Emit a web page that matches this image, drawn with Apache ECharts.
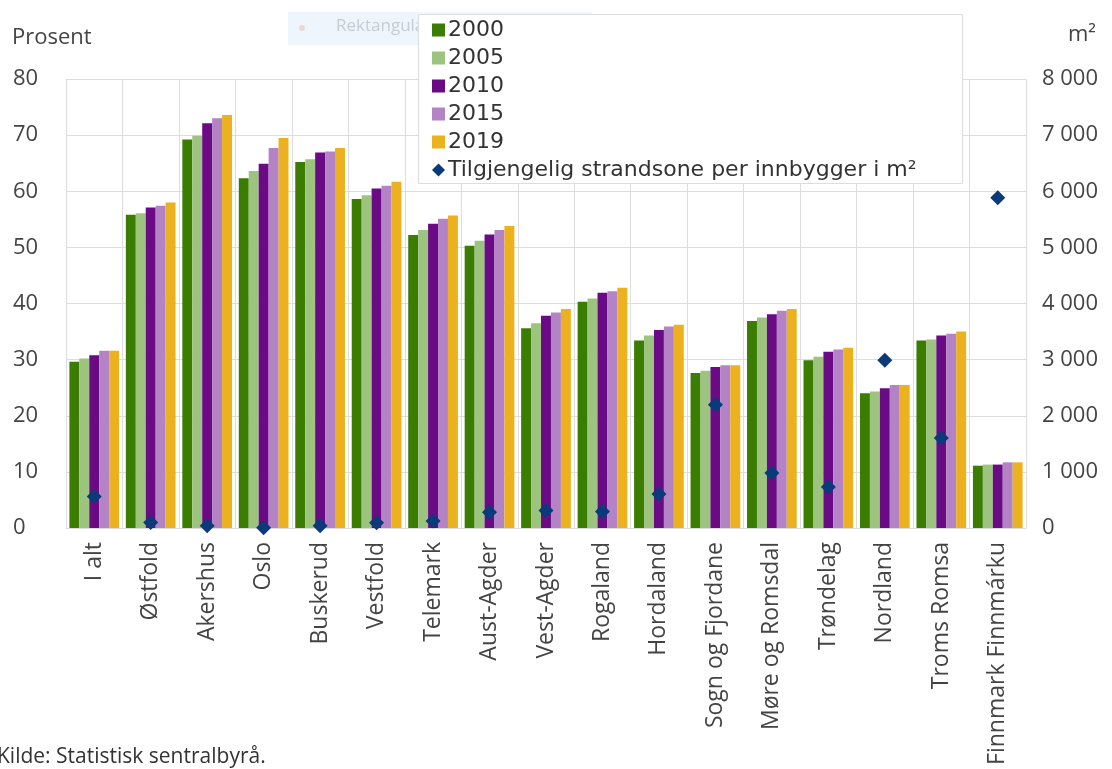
<!DOCTYPE html>
<html>
<head>
<meta charset="utf-8">
<script src="https://cdn.jsdelivr.net/npm/echarts@6/dist/echarts.min.js"></script>
<style>
  html, body { margin: 0; padding: 0; background: #fff; }
  #chart { width: 1112px; height: 769px; }
</style>
</head>
<body>
<div id="chart"></div>
<script>
const categories = ['I alt', 'Østfold', 'Akershus', 'Oslo', 'Buskerud', 'Vestfold', 'Telemark', 'Aust-Agder', 'Vest-Agder', 'Rogaland', 'Hordaland', 'Sogn og Fjordane', 'Møre og Romsdal', 'Trøndelag', 'Nordland', 'Troms Romsa', 'Finnmark Finnmárku']

// andel (prosent) per år
const y2000 = [29.6, 55.8, 69.2, 62.3, 65.2, 58.6, 52.2, 50.3, 35.6, 40.3, 33.4, 27.6, 36.9, 29.9, 24.0, 33.4, 11.1]
const y2005 = [30.2, 56.1, 69.9, 63.6, 65.7, 59.3, 53.1, 51.2, 36.5, 40.9, 34.3, 28.0, 37.5, 30.5, 24.3, 33.6, 11.3]
const y2010 = [30.8, 57.1, 72.1, 64.9, 66.9, 60.5, 54.2, 52.3, 37.8, 41.9, 35.3, 28.7, 38.1, 31.4, 24.9, 34.3, 11.3]
const y2015 = [31.6, 57.4, 73.0, 67.7, 67.1, 61.0, 55.1, 53.1, 38.4, 42.2, 35.9, 29.0, 38.7, 31.8, 25.5, 34.6, 11.7]
const y2019 = [31.6, 58.0, 73.6, 69.5, 67.7, 61.7, 55.7, 53.8, 39.0, 42.8, 36.2, 29.0, 39.0, 32.1, 25.5, 35.0, 11.7]

// tilgjengelig strandsone per innbygger (m2)
const strandsone = [560, 100, 40, 5, 40, 95, 125, 280, 310, 296, 606, 2198, 980, 731, 2987, 1604, 5882]

const font = '"Open Sans", "Noto Sans", sans-serif'
const txt = '#444'

const barSeries = (name, data, color) => ({
  name: name,
  type: 'bar',
  data: data,
  barGap: '0%',
  barCategoryGap: '12%',
  itemStyle: { color: color },
  z: 2,
})

const options = {
  animation: false,
  textStyle: { fontFamily: font },
  grid: {
    left: 66,
    right: 86,
    top: 79,
    bottom: 241,
  },
  xAxis: {
    type: 'category',
    data: categories,
    axisTick: { show: false },
    axisLine: { lineStyle: { color: '#ddd' } },
    splitLine: { show: true, lineStyle: { color: '#ddd' } },
    axisLabel: {
      interval: 0,
      rotate: 90,
      margin: 14,
      color: txt,
      fontSize: 23,
      fontFamily: font,
    },
  },
  yAxis: [
    {
      type: 'value',
      min: 0,
      max: 80,
      interval: 10,
      axisLine: { show: false },
      axisTick: { show: false },
      splitLine: { lineStyle: { color: '#ddd' } },
      axisLabel: {
        align: 'left',
        margin: 53,
        color: txt,
        fontSize: 22,
        fontFamily: font,
      },
    },
    {
      type: 'value',
      min: 0,
      max: 8000,
      interval: 1000,
      axisLine: { show: false },
      axisTick: { show: false },
      splitLine: { show: false },
      axisLabel: {
        align: 'left',
        margin: 16,
        color: txt,
        fontSize: 22,
        fontFamily: font,
        formatter: v => String(v).replace(/\B(?=(\d{3})+(?!\d))/g, ' '),
      },
    },
  ],
  legend: {
    orient: 'vertical',
    left: 427,
    top: 14,
    itemWidth: 13,
    itemHeight: 13,
    itemGap: 6,
    textStyle: { color: '#333', fontSize: 22, fontFamily: '"DejaVu Sans", sans-serif', padding: [0, 0, 0, -2] },
    data: [
      { name: '2000', icon: 'rect' },
      { name: '2005', icon: 'rect' },
      { name: '2010', icon: 'rect' },
      { name: '2015', icon: 'rect' },
      { name: '2019', icon: 'rect' },
      { name: 'Tilgjengelig strandsone per innbygger i m²', icon: 'diamond' },
    ],
  },
  graphic: [
    {
      type: 'rect',
      z: 1,
      shape: { x: 288, y: 12, width: 304, height: 33 },
      style: { fill: '#eef5fc' },
    },
    {
      type: 'circle',
      z: 1,
      shape: { cx: 302, cy: 28, r: 3 },
      style: { fill: '#e8d9d4' },
    },
    {
      type: 'text',
      z: 1,
      left: 336,
      top: 18,
      style: { text: 'Rektangulær utsnipp', fill: '#c4ccd6', fontSize: 17, fontFamily: font },
    },
    {
      type: 'rect',
      z: 3,
      shape: { x: 418.5, y: 14.5, width: 544, height: 169 },
      style: { fill: '#fff', stroke: '#ddd', lineWidth: 1 },
    },
    {
      type: 'text',
      left: 12,
      top: 27,
      style: { text: 'Prosent', fill: txt, fontSize: 22, fontFamily: font },
    },
    {
      type: 'text',
      left: 1068,
      top: 24,
      style: { text: 'm²', fill: txt, fontSize: 22, fontFamily: font },
    },
    {
      type: 'text',
      left: -3,
      top: 747,
      style: { text: 'Kilde: Statistisk sentralbyrå.', fill: '#333', fontSize: 21, fontFamily: font },
    },
  ],
  series: [
    barSeries('2000', y2000, '#3a7d00'),
    barSeries('2005', y2005, '#9dc47f'),
    barSeries('2010', y2010, '#6a0a85'),
    barSeries('2015', y2015, '#b383c5'),
    barSeries('2019', y2019, '#ebb11f'),
    {
      name: 'Tilgjengelig strandsone per innbygger i m²',
      type: 'scatter',
      yAxisIndex: 1,
      data: strandsone,
      symbol: 'diamond',
      symbolSize: [15, 15],
      itemStyle: { color: '#0b3a7a', opacity: 1 },
      z: 5,
    },
  ],
}

const chart = echarts.init(document.getElementById('chart'))
chart.setOption(options)
window.addEventListener('resize', function () {
  chart && chart.resize()
})
</script>
</body>
</html>
